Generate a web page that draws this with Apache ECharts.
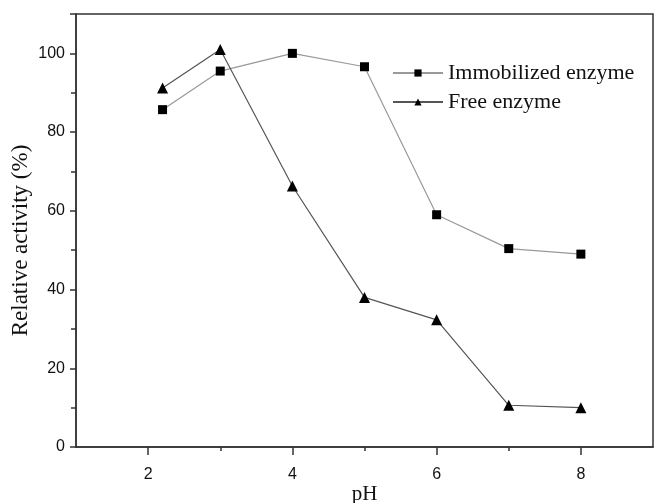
<!DOCTYPE html>
<html>
<head>
<meta charset="utf-8">
<script src="https://cdn.jsdelivr.net/npm/echarts@6/dist/echarts.min.js"></script>
<style>
  html, body { margin: 0; padding: 0; background: #fff; }
  #chart { width: 654px; height: 503px; }
</style>
</head>
<body>
<div id="chart"></div>
<script>
// values
var phValues = [2.2, 3, 4, 5, 6, 7, 8];
var immobilized = [85.7, 95.5, 100, 96.6, 59, 50.4, 49];
var freeEnzyme = [91.2, 101, 66.3, 38, 32.3, 10.6, 10];
var xTickLabels = [2, 4, 6, 8];
var xMinorTicks = [3, 5, 7];

function pairs(xs, ys) {
	return xs.map(function (x, i) { return [x, ys[i]]; });
}

var chart = echarts.init(document.getElementById('chart'));
var option = {
	animation: false,
	grid: {
		left: 76, right: 1, top: 14, bottom: 56,
		outerBoundsMode: 'none', containLabel: false,
		show: true, borderColor: '#333', borderWidth: 1.5
	},
	legend: {
		left: 387, top: 57,
		orient: 'vertical',
		itemWidth: 50, itemHeight: 9, itemGap: 7,
		textStyle: { fontFamily: 'Liberation Serif', fontSize: 22, color: '#111' },
		data: ['Immobilized enzyme', 'Free enzyme']
	},
	xAxis: [
		{
			type: 'value', min: 1, max: 9,
			name: 'pH', nameLocation: 'middle', nameGap: 37, nameMoveOverlap: false,
			nameTextStyle: { fontFamily: 'Liberation Serif', fontSize: 21, color: '#111' },
			axisLine: { lineStyle: { color: '#333', width: 1.5 } },
			axisTick: { customValues: xTickLabels, length: 8, lineStyle: { color: '#333', width: 1.5 } },
			axisLabel: {
				customValues: xTickLabels,
				fontFamily: 'Liberation Sans', fontSize: 16, color: '#111', margin: 20
			},
			splitLine: { show: false }
		},
		{
			type: 'value', min: 1, max: 9, position: 'bottom',
			axisLine: { show: false },
			axisTick: { customValues: xMinorTicks, length: 4, lineStyle: { color: '#333', width: 1.5 } },
			axisLabel: { show: false },
			splitLine: { show: false }
		}
	],
	yAxis: {
		type: 'value', min: 0, max: 110, interval: 20,
		name: 'Relative activity (%)', nameLocation: 'middle', nameGap: 44, nameMoveOverlap: false,
		nameTextStyle: { fontFamily: 'Liberation Serif', fontSize: 23, color: '#111', padding: [0, 20, 0, 0] },
		axisLine: { show: true, lineStyle: { color: '#333', width: 1.5 } },
		axisTick: { show: true, length: 6, lineStyle: { color: '#333', width: 1.5 } },
		minorTick: { show: true, splitNumber: 2, length: 5, lineStyle: { color: '#333', width: 1.5 } },
		axisLabel: {
			fontFamily: 'Liberation Sans', fontSize: 16, color: '#111', margin: 11,
			showMaxLabel: false
		},
		splitLine: { show: false }
	},
	series: [
		{
			name: 'Immobilized enzyme',
			type: 'line',
			data: pairs(phValues, immobilized),
			symbol: 'rect', symbolSize: 9,
			itemStyle: { color: '#000' },
			lineStyle: { color: '#999', width: 1.2 }
		},
		{
			name: 'Free enzyme',
			type: 'line',
			data: pairs(phValues, freeEnzyme),
			symbol: 'triangle', symbolSize: 11,
			itemStyle: { color: '#000' },
			lineStyle: { color: '#555', width: 1.2 }
		}
	]
};
option && chart.setOption(option);
</script>
</body>
</html>
